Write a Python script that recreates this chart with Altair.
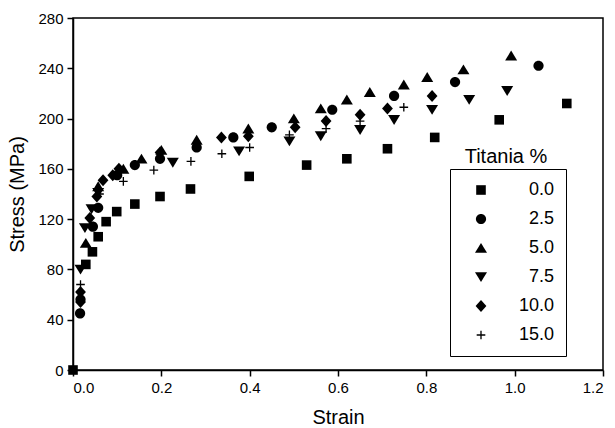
import altair as alt
import pandas as pd

series_labels = ["0.0", "2.5", "5.0", "7.5", "10.0", "15.0"]

s00_x = [0.0, 0.029, 0.044, 0.057, 0.075, 0.099, 0.140, 0.197, 0.266, 0.399, 0.529, 0.620, 0.712, 0.819, 0.965, 1.118]
s00_y = [0, 84, 94, 106, 118, 126, 132, 138, 144, 154, 163, 168, 176, 185, 199, 212]

s25_x = [0.016, 0.017, 0.045, 0.057, 0.100, 0.140, 0.197, 0.280, 0.363, 0.450, 0.587, 0.727, 0.865, 1.054]
s25_y = [45, 56, 114, 129, 155, 163, 168, 177, 185, 193, 207, 218, 229, 242]

s50_x = [0.029, 0.057, 0.114, 0.155, 0.200, 0.280, 0.397, 0.500, 0.561, 0.620, 0.672, 0.749, 0.802, 0.884, 0.992]
s50_y = [101, 146, 160, 168, 175, 183, 192, 200, 208, 215, 221, 227, 233, 239, 250]

s75_x = [0.017, 0.027, 0.042, 0.057, 0.226, 0.376, 0.490, 0.561, 0.650, 0.727, 0.813, 0.897, 0.983]
s75_y = [80, 113, 128, 141, 165, 174, 182, 186, 191, 199, 207, 215, 222]

s100_x = [0.017, 0.017, 0.038, 0.054, 0.068, 0.090, 0.104, 0.197, 0.336, 0.397, 0.503, 0.573, 0.650, 0.712, 0.813]
s100_y = [54, 62, 121, 138, 151, 155, 160, 173, 185, 186, 193, 198, 203, 208, 218]

s150_x = [0.017, 0.060, 0.114, 0.183, 0.267, 0.337, 0.400, 0.490, 0.573, 0.650, 0.749]
s150_y = [68, 140, 150, 159, 166, 172, 177, 187, 192, 198, 209]

x_ticks = [0.0, 0.2, 0.4, 0.6, 0.8, 1.0, 1.2]
y_ticks = [0, 40, 80, 120, 160, 200, 240, 280]

all_x = [s00_x, s25_x, s50_x, s75_x, s100_x, s150_x]
all_y = [s00_y, s25_y, s50_y, s75_y, s100_y, s150_y]

rows = []
for lab, xs, ys in zip(series_labels, all_x, all_y):
    for a, b in zip(xs, ys):
        rows.append({"strain": a, "stress": b, "titania": lab})
df = pd.DataFrame(rows)

shapes = [
    "M-0.8,-0.8H0.8V0.8H-0.8Z",
    "M-0.85,0A0.85,0.85 0 1,0 0.85,0A0.85,0.85 0 1,0 -0.85,0Z",
    "M0,-0.85L1,0.8L-1,0.8Z",
    "M0,0.85L1,-0.8L-1,-0.8Z",
    "M0,-1L0.9,0L0,1L-0.9,0Z",
    "M-0.72,-0.11H-0.11V-0.72H0.11V-0.11H0.72V0.11H0.11V0.72H-0.11V0.11H-0.72Z",
]

font = "Liberation Sans"

points = alt.Chart(df).mark_point(
    filled=True, fill="black", strokeWidth=0, size=144, opacity=1
).encode(
    x=alt.X("strain:Q", title="Strain",
            scale=alt.Scale(domain=[0, 1.2], nice=False, zero=False),
            axis=alt.Axis(values=x_ticks, format=".1f", grid=False)),
    y=alt.Y("stress:Q", title="Stress (MPa)",
            scale=alt.Scale(domain=[0, 280], nice=False),
            axis=alt.Axis(values=y_ticks, grid=False)),
    shape=alt.Shape("titania:N", sort=series_labels,
                    scale=alt.Scale(domain=series_labels, range=shapes),
                    legend=alt.Legend(
                        title=None, orient="none", legendX=377, legendY=151,
                        strokeColor="black", padding=12, symbolOffset=10,
                        labelAlign="right", labelOffset=64, rowPadding=11,
                        labelFontSize=18, labelFont=font, labelColor="black",
                        symbolSize=144, symbolFillColor="black",
                        symbolStrokeWidth=0, symbolOpacity=1,
                    )),
)

title_df = pd.DataFrame({"t": ["Titania %"]})
legend_title = alt.Chart(title_df).mark_text(
    font=font, fontSize=20, color="black", align="center", baseline="alphabetic"
).encode(x=alt.value(433), y=alt.value(145), text="t:N")

chart = alt.layer(points, legend_title).properties(
    width=530, height=352,
    autosize=alt.AutoSizeParams(type="none"),
    padding={"left": 73, "top": 18, "right": 12, "bottom": 58},
    background="white",
).configure_view(
    stroke="black", strokeWidth=1.5
).configure_axis(
    domainColor="black", domainWidth=1.5, tickColor="black", tickWidth=1.5,
    tickSize=6, labelFont=font, labelFontSize=15, labelColor="black",
    titleFont=font, titleFontSize=20, titleFontWeight="normal", titleColor="black",
    labelPadding=4,
).configure_axisX(titlePadding=12).configure_axisY(titlePadding=10)

chart.save("out.html", embed_options={"renderer": "svg", "actions": False})
